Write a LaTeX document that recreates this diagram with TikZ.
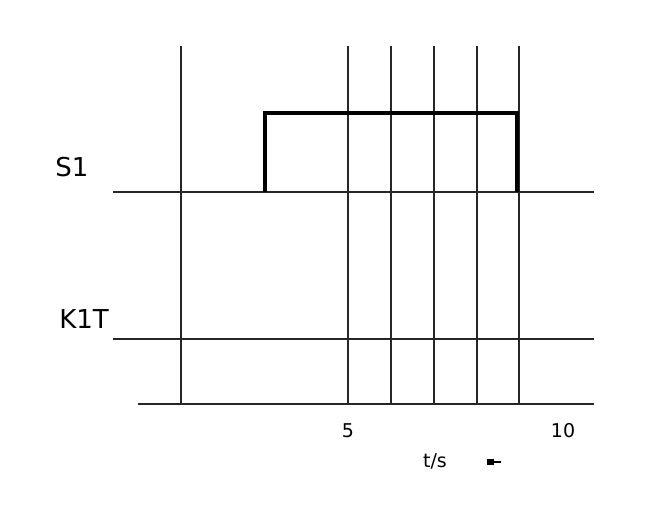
\documentclass[tikz,border=0pt]{standalone}
\usepackage{fontspec}
\setmainfont{DejaVu Sans}
\usepackage{tikz}

\begin{document}
\begin{tikzpicture}
        [x=1pt,y=-1pt,line width=1.6pt,
         every node/.style={inner sep=0pt,anchor=base},
         sig/.style={font=\fontsize{26}{26}\selectfont},
         tick/.style={font=\fontsize{19}{19}\selectfont}]
        \useasboundingbox (0,0) rectangle (645,506);

        \foreach \x in {181,348,391,434,477,519}
            \draw[black!85] (\x,46) -- (\x,405);

        \draw[black!85] (113,192) -- (594,192);
        \draw[black!85] (113,339) -- (594,339);
        \draw[black!85] (138,404) -- (594,404);

        \draw[line width=3.4pt,line join=miter] (265,192) -- (265,113) -- (517,113) -- (517,192);

        \node[sig] (s1) at (72,176) {S1};
        \node[sig] (k1t) at (84,328) {K1T};
        \node[tick] (five) at (348,437) {5};
        \node[tick] (ten) at (563,437) {10};
        \node[tick] (ts) at (435,467) {t/s};

        \fill (487,459) rectangle (494,465);
        \draw[line width=1.4pt] (494,462) -- (501,462);
    \end{tikzpicture}
\end{document}
